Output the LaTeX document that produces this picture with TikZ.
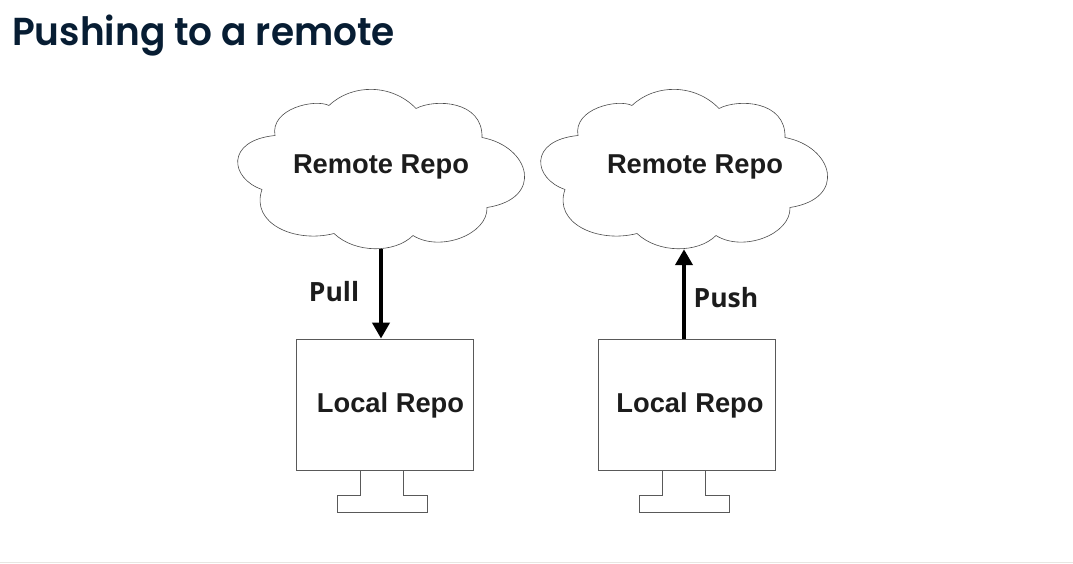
\documentclass[tikz,border=0pt]{standalone}
\usepackage{fontspec}
\usetikzlibrary{arrows.meta}
\setmainfont{Liberation Sans}
\newfontfamily\titlefont[FakeStretch=0.96]{Poppins SemiBold}
\newfontfamily\labelfont{Open Sans}
\definecolor{titleink}{HTML}{071D33}
\definecolor{repoink}{HTML}{1C1C1C}
\definecolor{footrule}{HTML}{E8E6E2}

\begin{document}
\begin{tikzpicture}[x=1pt,y=-1pt]
        \tikzstyle{title} = [anchor=base west, inner sep=0pt, text=titleink, font=\titlefont\fontsize{39}{39}\selectfont]
        \tikzstyle{cloudbox} = [minimum width=288pt, minimum height=165pt, inner sep=0pt]
        \tikzstyle{box} = [rectangle, minimum width=177pt, minimum height=131pt, inner sep=0pt, draw=black!65, line width=0.8pt]
        \tikzstyle{repotext} = [inner sep=0pt, text=repoink, font=\bfseries\fontsize{27.3}{27.3}\selectfont]
        \tikzstyle{actiontext} = [inner sep=0pt, text=repoink, font=\labelfont\bfseries\fontsize{26.5}{26.5}\selectfont]
        \tikzstyle{flow} = [-{Triangle[length=16pt,width=17pt]}, line width=4pt, black]
        \tikzset{
                repocloud/.pic={
                        \draw [black!70, line width=0.6pt] (-51,-63) .. controls (-28,-85) and (12,-85) .. (36,-60)
                                .. controls (55,-70) and (103,-68) .. (102,-31)
                                .. controls (150,-22) and (165,30) .. (107,39)
                                .. controls (108,66) and (60,84) .. (33,67)
                                .. controls (15,85) and (-25,85) .. (-46,65)
                                .. controls (-85,75) and (-130,55) .. (-118,21)
                                .. controls (-150,10) and (-155,-28) .. (-105,-33)
                                .. controls (-110,-60) and (-65,-70) .. (-51,-63);
                },
                repostand/.pic={
                        \draw [black!65, line width=0.7pt] (-24,65.5) -- (-24,90.5) -- (-47.5,90.5) -- (-47.5,107.5)
                                -- (42.5,107.5) -- (42.5,90.5) -- (18.5,90.5) -- (18.5,65.5);
                }
        }

        \useasboundingbox (0,0) rectangle (1073,564);

        \node (heading) [title] at (12,46) {Pushing to a remote};

        \node (cloudA) [cloudbox] at (381,166.5) {};
        \node (cloudB) [cloudbox, right of=cloudA, node distance=303pt] {};
        \node (localA) [box] at (384.5,404.5) {};
        \node (localB) [box, right of=localA, node distance=302pt] {};

        \pic at ([xshift=-1pt,yshift=-2pt]cloudA.center) {repocloud};
        \pic at ([xshift=-1pt,yshift=-2pt]cloudB.center) {repocloud};
        \pic at (localA.center) {repostand};
        \pic at (localB.center) {repostand};

        \node (remoteA) [repotext] at (cloudA.center) {Remote Repo};
        \node (remoteB) [repotext] at ([xshift=11pt]cloudB.center) {Remote Repo};
        \node (textA) [repotext] at ([xshift=6pt,yshift=-1pt]localA.center) {Local Repo};
        \node (textB) [repotext] at ([xshift=3.5pt,yshift=-1pt]localB.center) {Local Repo};
        \node (pull) [actiontext] at (334,291.5) {Pull};
        \node (push) [actiontext] at (726,298) {Push};

        \draw [flow] (cloudA.south) -- (cloudA.south |- localA.north);
        \draw [flow] (cloudB.south |- localB.north) -- (cloudB.south);

        \draw [footrule, line width=1.2pt] (0,562.6) -- (1073,562.6);
    \end{tikzpicture}
\end{document}
